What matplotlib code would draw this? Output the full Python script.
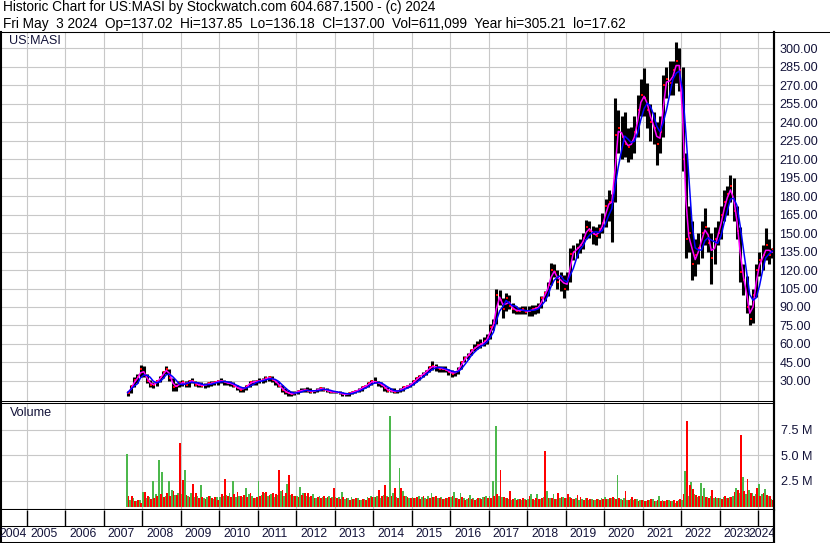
import numpy as np
import pandas as pd
import matplotlib
matplotlib.use('Agg')
import matplotlib.pyplot as plt
from matplotlib.ticker import FormatStrFormatter, NullFormatter
from matplotlib.lines import Line2D
import matplotlib.transforms as mtransforms

plt.rcParams['font.family'] = ['Liberation Sans', 'DejaVu Sans']

# monthly bars, Aug 2007 .. May 2024
start_month = '2007-08-01'

high = [22, 27, 33, 36, 42.6,
        42, 36, 31, 29, 31, 34, 38, 42, 40, 32, 28, 30,
        31, 30, 31, 32, 30, 29, 29, 28, 29, 30, 30, 31,
        32, 31, 30, 30, 29, 27, 25, 25, 27, 30, 31, 31,
        32, 32, 34, 34, 34, 31, 30, 27, 24, 23, 22, 22,
        23, 24, 24, 25, 24, 23, 24, 25, 25, 24, 23, 22,
        22, 22, 21, 20, 21, 22, 23, 24, 26, 27, 29, 31,
        33, 30, 29, 27, 25, 24, 24, 23, 24, 26, 27, 28,
        31, 33, 35, 37, 39, 42, 46, 44, 42, 42, 42, 40,
        39, 38, 41, 46, 50, 53, 56, 60, 62, 64, 66, 68,
        76, 80, 105, 104, 97, 101, 100, 93, 91, 90, 91, 91,
        91, 92, 92, 93, 99, 103, 110, 126, 125, 120, 118, 116,
        118, 138, 140, 142, 145, 150, 161, 160, 156, 155, 157, 166,
        178, 185, 182, 260, 250, 245, 248, 235, 236, 245, 262, 275,
        284, 272, 255, 248, 240, 245, 278, 285, 290, 290, 305, 300,
        285, 215, 172, 160, 145, 150, 160, 170, 155, 150, 155, 160,
        172, 185, 188, 197, 195, 172, 155, 125, 115, 92, 105, 125,
        135, 140, 154, 145, 138]

low = [17.6, 20, 25, 28, 33,
       33, 28, 25, 24, 26, 29, 32, 36, 30, 22, 22, 25,
       26, 25, 25, 28, 26, 25, 25, 24, 25, 26, 27, 27,
       28, 27, 27, 26, 25, 23, 21, 21, 23, 25, 27, 27,
       28, 28, 29, 30, 29, 27, 25, 21, 19, 18, 18, 18.5,
       19, 21, 21, 21, 20, 20, 21, 22, 22, 21, 20, 20,
       20, 19, 18, 17.8, 18, 19, 20, 21, 22, 24, 25, 27,
       28, 26, 25, 22, 21, 21, 20, 20, 21, 22, 24, 25,
       27, 29, 31, 33, 35, 37, 39, 38, 37, 37, 37, 35,
       33, 34, 36, 40, 45, 48, 51, 54, 56, 57, 58, 60,
       64, 71, 76, 92, 81, 87, 88, 85, 84, 84, 84, 84,
       83, 83, 84, 85, 89, 95, 99, 108, 114, 105, 103, 97,
       104, 110, 128, 130, 134, 137, 145, 146, 141, 140, 146, 150,
       155, 160, 143, 175, 215, 210, 212, 208, 210, 215, 228, 245,
       245, 235, 225, 222, 205, 215, 228, 260, 262, 262, 272, 265,
       200, 130, 135, 112, 115, 125, 130, 140, 135, 109, 125, 140,
       145, 160, 165, 175, 160, 145, 110, 100, 85, 75, 77, 98,
       115, 120, 128, 125, 130]

close = [20.5, 26, 31, 33, 40,
         35, 30, 27, 27, 30, 33, 37, 40, 32, 25, 26, 28,
         29, 27, 30, 30, 27, 27, 26, 27, 28, 28, 29, 30,
         30, 29, 28, 28, 26, 24, 23, 24, 26, 29, 29, 30,
         30, 31, 32, 33, 31, 29, 26, 23, 21, 20, 19, 20.5,
         22, 22, 23, 22, 21, 22, 23, 24, 23, 22, 21, 21,
         21, 20, 19, 19, 20, 21, 22, 23, 25, 26, 28, 30,
         29, 28, 27, 24, 22, 22, 21, 22, 23, 25, 26, 27,
         30, 32, 34, 36, 38, 41, 42, 41, 40, 40, 39, 37,
         36, 37, 40, 45, 49, 51, 55, 57, 59, 60, 62, 65,
         74, 77, 100, 96, 88, 97, 91, 88, 87, 87, 88, 86,
         87, 88, 89, 90, 97, 101, 108, 120, 118, 110, 114, 105,
         112, 133, 135, 138, 140, 146, 155, 152, 149, 148, 153, 158,
         172, 175, 175, 230, 235, 228, 222, 220, 224, 232, 250, 262,
         260, 250, 240, 235, 222, 232, 270, 275, 272, 282, 290, 282,
         210, 145, 150, 125, 132, 138, 150, 155, 142, 130, 145, 150,
         165, 175, 182, 188, 168, 152, 118, 112, 90, 80, 100, 120,
         128, 132, 140, 132, 137]

# volume in millions: biggest up-day and down-day of each month
vol_up = [5.15, 0.6, 0.8, 0.5, 0.6,
          1.4, 0.8, 0.9, 2.5, 1.2, 4.5, 3.4, 1.0, 2.45, 1.6, 1.1, 1.3,
          1.2, 3.6, 1.0, 1.3, 0.9, 1.0, 2.07, 0.8, 0.9, 1.0, 0.7, 0.9,
          0.9, 1.0, 1.1, 1.3, 2.45, 0.9, 1.0, 0.9, 1.85, 1.2, 1.0, 0.8,
          2.5, 1.1, 1.3, 1.0, 1.2, 0.9, 1.1, 1.5, 1.0, 2.2, 1.1, 1.0,
          1.0, 1.9, 1.3, 1.0, 0.9, 1.2, 0.8, 1.0, 0.9, 0.8, 1.0, 0.9,
          0.9, 0.9, 1.4, 0.7, 0.8, 0.9, 0.7, 0.8, 0.6, 0.7, 0.9, 1.0,
          0.9, 1.0, 0.8, 1.1, 1.0, 8.8, 1.3, 0.9, 3.8, 1.55, 1.0, 0.8,
          0.9, 0.8, 1.0, 0.9, 0.8, 1.0, 1.3, 0.9, 0.8, 0.9, 0.7, 0.8,
          0.9, 1.4, 0.8, 1.3, 0.8, 0.7, 1.15, 0.8, 0.7, 0.8, 0.9, 1.0,
          1.0, 2.45, 7.85, 1.0, 0.9, 0.8, 0.7, 0.6, 0.8, 0.7, 0.6, 0.7,
          0.7, 1.2, 0.6, 1.2, 0.7, 0.9, 1.5, 0.8, 1.2, 0.7, 0.8, 0.9,
          0.8, 0.9, 0.7, 0.8, 0.6, 0.7, 0.8, 0.6, 0.7, 0.6, 0.7, 0.8,
          0.95, 0.7, 0.8, 0.8, 3.1, 0.7, 0.8, 0.6, 0.7, 0.6, 0.7, 0.6,
          0.6, 0.5, 0.6, 0.7, 0.5, 1.05, 0.6, 0.5, 0.6, 0.5, 0.4, 0.6,
          0.6, 3.5, 1.0, 2.35, 1.2, 0.9, 2.25, 1.85, 0.9, 1.0, 0.85, 0.8,
          0.8, 0.9, 0.8, 0.9, 1.0, 1.85, 1.3, 2.9, 1.2, 1.65, 1.3, 1.2,
          2.2, 1.2, 1.75, 1.0, 0.7]

vol_dn = [1.05, 1.0, 0.5, 0.6, 0.4,
          1.4, 1.0, 0.7, 0.8, 1.0, 1.2, 0.9, 1.3, 1.0, 1.5, 1.1, 6.2,
          2.6, 1.1, 0.9, 2.2, 1.3, 0.8, 0.9, 0.7, 1.0, 0.8, 0.9, 0.6,
          1.2, 2.7, 1.0, 0.9, 1.2, 1.4, 1.0, 1.1, 0.9, 1.3, 0.8, 0.9,
          1.0, 1.4, 1.4, 1.1, 1.3, 1.2, 3.6, 1.6, 1.3, 3.05, 1.2, 1.0,
          0.9, 1.1, 1.3, 1.35, 1.0, 0.8, 0.9, 0.8, 1.0, 0.9, 0.8, 1.85,
          0.8, 0.7, 0.9, 0.8, 0.6, 0.7, 0.8, 0.6, 0.7, 0.6, 0.8, 0.9,
          0.9, 1.6, 1.0, 2.07, 0.9, 1.0, 1.85, 0.8, 1.85, 1.0, 0.9, 0.8,
          0.8, 0.9, 0.7, 1.0, 0.7, 0.8, 0.9, 1.05, 0.8, 0.7, 0.8, 0.9,
          1.05, 0.8, 0.7, 0.9, 0.6, 0.8, 0.7, 0.6, 0.8, 0.7, 0.9, 0.8,
          0.8, 1.0, 1.2, 3.55, 0.9, 0.8, 1.5, 0.7, 0.6, 0.7, 0.8, 0.6,
          1.05, 0.7, 0.8, 0.7, 0.8, 5.4, 0.8, 0.8, 0.7, 1.3, 0.9, 0.8,
          1.2, 0.8, 0.7, 1.1, 0.95, 0.6, 0.8, 0.7, 0.6, 0.7, 0.6, 0.7,
          0.7, 0.8, 0.9, 0.7, 0.8, 0.6, 1.5, 0.6, 0.95, 0.7, 0.5, 0.6,
          0.5, 0.6, 0.75, 0.5, 0.6, 0.5, 0.5, 0.6, 0.5, 0.6, 0.5, 0.7,
          1.2, 8.3, 2.07, 1.75, 1.1, 1.0, 1.0, 0.9, 0.8, 1.6, 0.9, 0.8,
          0.7, 1.0, 0.8, 0.9, 1.4, 1.6, 7.0, 1.5, 2.7, 1.3, 1.0, 1.8,
          1.0, 1.3, 1.1, 1.0, 0.6]

price_ticks = np.arange(30, 301, 15)
vol_ticks = [2.5, 5.0, 7.5]
year_labels = list(range(2004, 2025))

header1 = 'Historic Chart for US:MASI by Stockwatch.com 604.687.1500 - (c) 2024'
header2 = ('Fri May  3 2024  Op=137.02  Hi=137.85  Lo=136.18  Cl=137.00  '
           'Vol=611,099  Year hi=305.21  lo=17.62')

months = pd.date_range(start_month, periods=len(close), freq='MS') + pd.Timedelta(days=14)
closes = pd.Series(close, index=months)
ma_fast = closes.rolling(2, min_periods=1).mean()
ma_slow = closes.rolling(4, min_periods=1).mean()

W, H = 830, 543
fig = plt.figure(figsize=(W / 100, H / 100), dpi=100)


def box(l, t, r, b):
    # pixel rectangle -> figure fraction
    return [l / W, 1 - b / H, (r - l) / W, (b - t) / H]


x0 = pd.Timestamp('2004-04-25')
x1 = pd.Timestamp('2024-06-01')
years = pd.date_range('2005-01-01', '2024-01-01', freq='YS')
grid_c = '#c8c8c8'
lab_c = '#14143a'
fs = 9.1
fs_year = 8.7

# ---- price panel
ax = fig.add_axes(box(0.5, 32, 774, 400.5))
ax.set_xlim(x0, x1)
ax.set_ylim(14.1, 313.2)
ax.set_xticks(years)
ax.xaxis.set_major_formatter(NullFormatter())
ax.set_yticks(price_ticks)
ax.yaxis.set_major_formatter(FormatStrFormatter('%.2f'))
ax.yaxis.tick_right()
ax.tick_params(axis='both', length=0)
ax.tick_params(axis='y', pad=4, labelsize=fs, labelcolor=lab_c)
ax.grid(True, color=grid_c, lw=0.8)
ax.set_axisbelow(True)

ax.vlines(months, low, high, color='black', lw=2.2)
ax.plot(months + pd.Timedelta(days=9), close, 's', color='red', ms=1.9, mew=0)
ax.plot(months, ma_fast, color='#ff00ff', lw=1.1)
ax.plot(months, ma_slow, color='#0000ff', lw=1.1)
ax.text(9 / 774, 1 - 9 / 368.5, 'US:MASI', transform=ax.transAxes,
        fontsize=fs, va='center', ha='left', color=lab_c)

for s in ax.spines.values():
    s.set_color('black')
ax.spines['top'].set_linewidth(0.75)
ax.spines['bottom'].set_linewidth(0.75)
ax.spines['left'].set_linewidth(1.5)
ax.spines['right'].set_linewidth(1.5)

# ---- volume panel
av = fig.add_axes(box(0.5, 402.5, 774, 509.5))
av.set_xlim(x0, x1)
av.set_ylim(-0.28, 10.13)
av.set_xticks(years)
av.xaxis.set_major_formatter(NullFormatter())
av.set_yticks(vol_ticks)
av.set_yticklabels([f'{v:.1f} M' for v in vol_ticks])
av.yaxis.tick_right()
av.tick_params(axis='both', length=0)
av.tick_params(axis='y', pad=5, labelsize=fs, labelcolor=lab_c)
av.grid(True, color=grid_c, lw=0.8)
av.set_axisbelow(True)

av.bar(months - pd.Timedelta(days=7), vol_up, width=17, color='#4cb84c', lw=0,
       antialiased=False)
av.bar(months + pd.Timedelta(days=8), vol_dn, width=17, color='#ff0000', lw=0,
       antialiased=False)
av.text(9 / 774, 1 - 11 / 107, 'Volume', transform=av.transAxes,
        fontsize=fs, va='center', ha='left', color=lab_c)
av.spines['top'].set_linewidth(0.75)
av.spines['bottom'].set_linewidth(1.5)
av.spines['left'].set_linewidth(1.5)
av.spines['right'].set_linewidth(1.5)

# ---- date band
ad = fig.add_axes(box(0.5, 509.5, 774, 542))
ad.set_xlim(x0, x1)
ad.set_ylim(0, 1)
ad.set_xticks([])
ad.set_yticks([])
ad.vlines(years, 0.5, 1, color='black', lw=1.0)
ad.axhline(0.5, color='black', lw=0.75)
trans = mtransforms.blended_transform_factory(ad.transData, ad.transAxes)
for yr in year_labels:
    if yr == 2004:
        ad.text(-0.001, 0.24, str(yr), transform=ad.transAxes, ha='left', va='center',
                fontsize=fs_year, color=lab_c)
    elif yr == 2024:
        # squeezed in right after the 2023 label, running over the border
        ad.text(748 / 773.5, 0.24, str(yr), transform=ad.transAxes, ha='left',
                va='center', fontsize=fs_year, color=lab_c, clip_on=False)
    else:
        ad.text(pd.Timestamp(f'{yr}-01-01') + pd.Timedelta(days=36), 0.24, str(yr),
                transform=trans, ha='left', va='center', fontsize=fs_year, color=lab_c)
ad.spines['top'].set_visible(False)
ad.spines['bottom'].set_linewidth(0.75)
ad.spines['left'].set_linewidth(1.5)
ad.spines['right'].set_linewidth(1.5)

# ---- header and frame lines
fig.text(3 / W, 1 - 7.5 / H, header1, fontsize=9.8, va='center', ha='left')
fig.text(3 / W, 1 - 24 / H, header2, fontsize=9.8, va='center', ha='left')
fig.add_artist(Line2D([0, 1], [1 - 32 / H] * 2, color='black', lw=0.75))
fig.add_artist(Line2D([774 / W] * 2, [1 - 32 / H, 1 - 542 / H], color='black', lw=1.5))

fig.savefig('out.png', dpi=100)
